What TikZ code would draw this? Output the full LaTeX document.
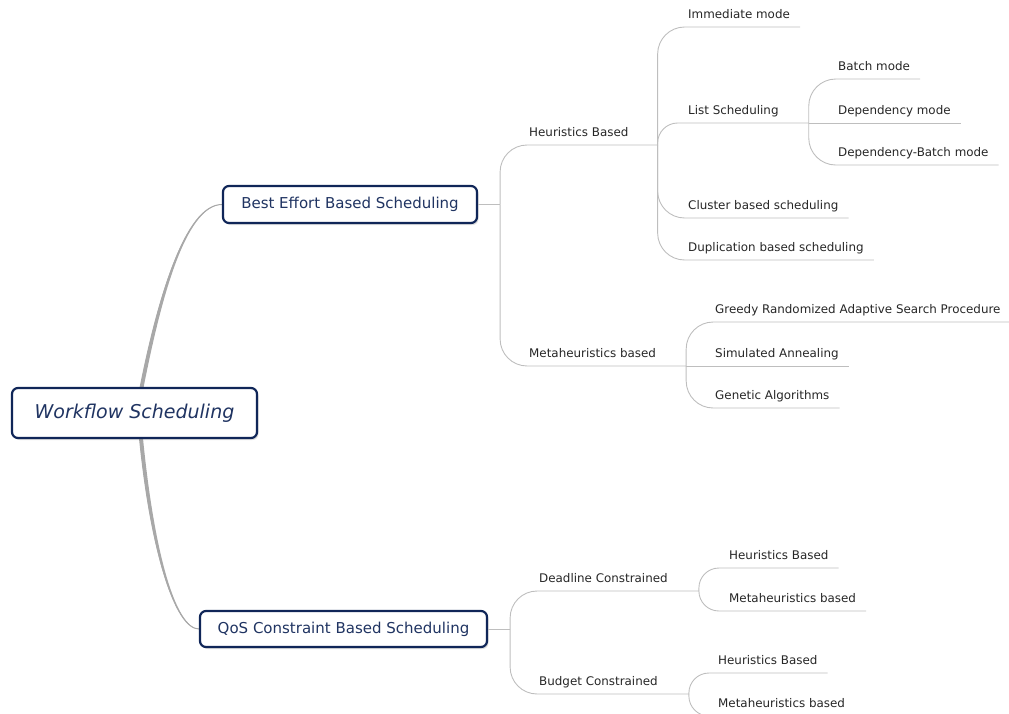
\documentclass[tikz,border=0pt]{standalone}
\usepackage{fontspec}
\setmainfont{DejaVu Sans}
\usetikzlibrary{shadows,backgrounds}
\definecolor{mapnavy}{RGB}{16,38,88}
\definecolor{maptext}{RGB}{32,52,98}
\definecolor{twiggray}{RGB}{190,190,190}
\definecolor{trunkgray}{RGB}{168,168,168}
\tikzset{
  topic/.style={draw=mapnavy,line width=2.2pt,rounded corners=6pt,fill=white,text=maptext,
    drop shadow={shadow xshift=1.5pt,shadow yshift=-2pt,opacity=0.25}},
  lbl/.style={anchor=south west,inner xsep=0pt,inner ysep=8pt,text depth=0pt,
    font=\fontsize{11.9}{14}\selectfont,text=black!85},
  twig/.style={draw=twiggray,line width=0.9pt,rounded corners=20pt},
  longtwig/.style={twig,rounded corners=27pt},
  trunk/.style={fill=trunkgray}
}
\begin{document}
\begin{tikzpicture}[x=1pt,y=-1pt]
\useasboundingbox (0,0) rectangle (1009,713);
\clip (0,0) rectangle (1009,713);
% main topics
\node[topic,minimum width=245pt,minimum height=50pt,font=\fontsize{19}{22}\selectfont\itshape] (wf) at (134.5,413) {Workflow Scheduling};
\node[topic,minimum width=254pt,minimum height=37pt,font=\fontsize{15}{18}\selectfont] (be) at (350,204.5) {Best Effort Based Scheduling};
\node[topic,minimum width=287pt,minimum height=36pt,font=\fontsize{15}{18}\selectfont] (qos) at (343.5,629) {QoS Constraint Based Scheduling};
% best effort branch
\node[lbl] (hb) at (529,145) {Heuristics Based};
\node[lbl] (mb) at (529,366) {Metaheuristics based};
\node[lbl] (im) at (688,27) {Immediate mode};
\node[lbl] (ls) at (688,123) {List Scheduling};
\node[lbl] (cb) at (688,218) {Cluster based scheduling};
\node[lbl] (db) at (688,260) {Duplication based scheduling};
\node[lbl] (bm) at (838,79) {Batch mode};
\node[lbl] (dm) at (838,123) {Dependency mode};
\node[lbl] (dbm) at (838,165) {Dependency-Batch mode};
\node[lbl] (gr) at (715,322) {Greedy Randomized Adaptive Search Procedure};
\node[lbl] (sa) at (715,366) {Simulated Annealing};
\node[lbl] (ga) at (715,408) {Genetic Algorithms};
% qos branch
\node[lbl] (dc) at (539,591) {Deadline Constrained};
\node[lbl] (bc) at (539,694) {Budget Constrained};
\node[lbl] (dh) at (729,568) {Heuristics Based};
\node[lbl] (dmh) at (729,611) {Metaheuristics based};
\node[lbl] (bh) at (718,673) {Heuristics Based};
\node[lbl] (bmh) at (718,716) {Metaheuristics based};
% branch points
\coordinate (be-r) at ([xshift=22pt]be.east);
\coordinate (qos-r) at ([xshift=22pt]qos.east);
\coordinate (hb-r) at ([xshift=29pt]hb.south east);
\coordinate (mb-r) at ([xshift=30pt]mb.south east);
\coordinate (ls-r) at ([xshift=30pt]ls.south east);
\coordinate (dc-r) at ([xshift=31pt]dc.south east);
\coordinate (bc-r) at ([xshift=31pt]bc.south east);
% trunks
\begin{scope}[on background layer]
\fill[trunk] ([xshift=4pt,yshift=-6pt]wf.north) .. controls +(18,-93) and +(-37,0) .. (be.west)
  .. controls +(-37,2) and +(18,-93) .. ([xshift=8pt,yshift=-6pt]wf.north) -- cycle;
\draw[trunkgray,line width=1pt] ([xshift=5pt,yshift=-6pt]wf.north) .. controls +(18,-93) and +(-37,0) .. (be.west);
\fill[trunk] ([xshift=4pt,yshift=6pt]wf.south) .. controls +(11,117) and +(-24,0) .. (qos.west)
  .. controls +(-24,-2) and +(11,117) .. ([xshift=8pt,yshift=6pt]wf.south) -- cycle;
\draw[trunkgray,line width=1pt] ([xshift=5pt,yshift=6pt]wf.south) .. controls +(11,117) and +(-24,0) .. (qos.west);
\end{scope}
% connectors
\draw[twig] (be.east) -- (be-r);
\draw[longtwig] (be-r) |- (hb-r);
\draw[longtwig] (be-r) |- (mb-r);
\draw[longtwig] (hb-r) |- ([xshift=10pt]im.south east);
\draw[twig] (hb-r) |- (ls-r);
\draw[longtwig] (hb-r) |- ([xshift=10pt]cb.south east);
\draw[longtwig] (hb-r) |- ([xshift=10pt]db.south east);
\draw[longtwig] (ls-r) |- ([xshift=10pt]bm.south east);
\draw[twig] (ls-r) -- ([xshift=10pt]dm.south east);
\draw[longtwig] (ls-r) |- ([xshift=10pt]dbm.south east);
\draw[longtwig] (mb-r) |- ([xshift=10pt]gr.south east);
\draw[twig] (mb-r) -- ([xshift=10pt]sa.south east);
\draw[longtwig] (mb-r) |- ([xshift=10pt]ga.south east);
\draw[twig] (qos.east) -- (qos-r);
\draw[longtwig] (qos-r) |- (dc-r);
\draw[longtwig] (qos-r) |- (bc-r);
\draw[twig] (dc-r) |- ([xshift=10pt]dh.south east);
\draw[twig] (dc-r) |- ([xshift=10pt]dmh.south east);
\draw[twig] (bc-r) |- ([xshift=10pt]bh.south east);
\draw[twig] (bc-r) |- ([xshift=10pt]bmh.south east);
\end{tikzpicture}
\end{document}
